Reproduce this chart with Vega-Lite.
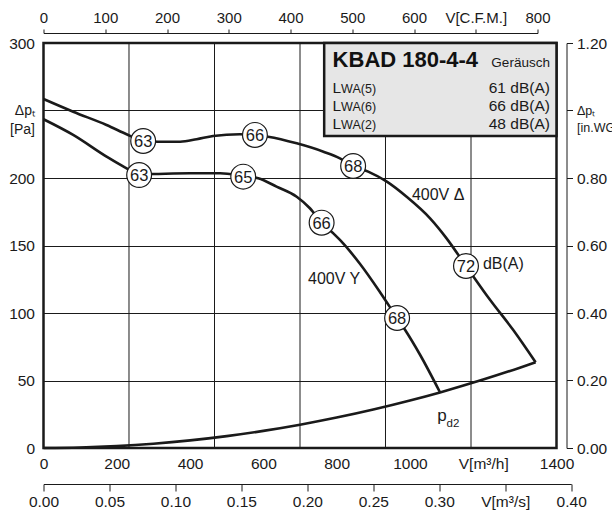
{
  "$schema": "https://vega.github.io/schema/vega-lite/v6.json",
  "width": 513,
  "height": 405,
  "autosize": {"type": "none"},
  "padding": {"left": 43.5, "top": 43, "right": 55.5, "bottom": 67},
  "config": {
    "view": {"stroke": "#1a1a1a", "strokeWidth": 2.5},
    "font": "Liberation Sans",
    "axis": {"labelFont": "Liberation Sans", "labelColor": "#1a1a1a", "labelFontSize": 15.5, "domainColor": "#1a1a1a", "tickColor": "#1a1a1a", "domainWidth": 1, "tickWidth": 1, "labelOverlap": false, "labelFlush": false, "labelBound": false}
  },
  "datasets": {
    "curves": [
      {"curve": "D", "v": 0, "p": 258.5}, {"curve": "D", "v": 81, "p": 249.1}, {"curve": "D", "v": 172, "p": 239.3}, {"curve": "D", "v": 231, "p": 231.9}, {"curve": "D", "v": 272, "p": 227.4}, {"curve": "D", "v": 313, "p": 226.9}, {"curve": "D", "v": 373, "p": 226.9}, {"curve": "D", "v": 418, "p": 228.7}, {"curve": "D", "v": 463, "p": 231.1}, {"curve": "D", "v": 536, "p": 232.4}, {"curve": "D", "v": 577, "p": 231.9}, {"curve": "D", "v": 613, "p": 230.6}, {"curve": "D", "v": 691, "p": 225.7}, {"curve": "D", "v": 764, "p": 219.5}, {"curve": "D", "v": 809, "p": 214.6}, {"curve": "D", "v": 845, "p": 208.9}, {"curve": "D", "v": 886, "p": 204.7}, {"curve": "D", "v": 937, "p": 197.3}, {"curve": "D", "v": 991, "p": 186.1}, {"curve": "D", "v": 1055, "p": 170.1}, {"curve": "D", "v": 1100, "p": 155.3}, {"curve": "D", "v": 1153, "p": 134.8}, {"curve": "D", "v": 1219, "p": 109.6}, {"curve": "D", "v": 1282, "p": 87.4}, {"curve": "D", "v": 1343, "p": 63.5},
      {"curve": "Y", "v": 0, "p": 243.5}, {"curve": "Y", "v": 81, "p": 231.9}, {"curve": "Y", "v": 172, "p": 215.8}, {"curve": "Y", "v": 222, "p": 207.9}, {"curve": "Y", "v": 261, "p": 202.8}, {"curve": "Y", "v": 300, "p": 203}, {"curve": "Y", "v": 400, "p": 203.5}, {"curve": "Y", "v": 482, "p": 203.5}, {"curve": "Y", "v": 545, "p": 201.5}, {"curve": "Y", "v": 586, "p": 199.8}, {"curve": "Y", "v": 636, "p": 193.6}, {"curve": "Y", "v": 691, "p": 186.1}, {"curve": "Y", "v": 727, "p": 177.6}, {"curve": "Y", "v": 759, "p": 166.9}, {"curve": "Y", "v": 791, "p": 159}, {"curve": "Y", "v": 809, "p": 154.1}, {"curve": "Y", "v": 864, "p": 136.3}, {"curve": "Y", "v": 918, "p": 115.6}, {"curve": "Y", "v": 965, "p": 96.3}, {"curve": "Y", "v": 987, "p": 87.4}, {"curve": "Y", "v": 1028, "p": 68.9}, {"curve": "Y", "v": 1082, "p": 41.3},
      {"curve": "pd2", "v": 0, "p": 0}, {"curve": "pd2", "v": 100, "p": 0.35}, {"curve": "pd2", "v": 200, "p": 1.41}, {"curve": "pd2", "v": 300, "p": 3.17}, {"curve": "pd2", "v": 400, "p": 5.63}, {"curve": "pd2", "v": 500, "p": 8.8}, {"curve": "pd2", "v": 600, "p": 12.67}, {"curve": "pd2", "v": 700, "p": 17.25}, {"curve": "pd2", "v": 800, "p": 22.53}, {"curve": "pd2", "v": 900, "p": 28.51}, {"curve": "pd2", "v": 1000, "p": 35.2}, {"curve": "pd2", "v": 1082, "p": 41.2}, {"curve": "pd2", "v": 1200, "p": 50.69}, {"curve": "pd2", "v": 1300, "p": 59.49}, {"curve": "pd2", "v": 1343, "p": 63.5}
    ],
    "circles": [
      {"lab": "63", "v": 272, "p": 227.4}, {"lab": "66", "v": 577, "p": 231.9}, {"lab": "68", "v": 845, "p": 208.9}, {"lab": "72", "v": 1153, "p": 134.8},
      {"lab": "63", "v": 261, "p": 202.2}, {"lab": "65", "v": 545, "p": 201}, {"lab": "66", "v": 759, "p": 166.9}, {"lab": "68", "v": 965, "p": 96.3}
    ],
    "vgrid": [{"v": 233.3}, {"v": 466.7}, {"v": 700}, {"v": 933.3}, {"v": 1166.7}],
    "box": [{"v": 766, "v2": 1400, "p": 300, "p2": 231.1}],
    "notes": [{"t": "400V Δ", "v": 1077, "p": 187.4}, {"t": "400V Y", "v": 793, "p": 125.2}, {"t": "dB(A)", "v": 1255, "p": 136.3}],
    "pd2p": [{"t": "p", "v": 1087.5, "p": 20}],
    "pd2s": [{"t": "d2", "v": 1100, "p": 15.8}],
    "btitle": [{"t": "KBAD 180-4-4", "v": 789, "p": 282}],
    "bsub": [{"t": "Geräusch", "v": 1382, "p": 282}],
    "brows": [
      {"L": "L", "sub": "WA(5)", "val": "61 dB(A)", "vL": 789, "vR": 1382, "p": 263.2},
      {"L": "L", "sub": "WA(6)", "val": "66 dB(A)", "vL": 789, "vR": 1382, "p": 249.9},
      {"L": "L", "sub": "WA(2)", "val": "48 dB(A)", "vL": 789, "vR": 1382, "p": 236.1}
    ],
    "cfm": [{"cfm": 0}, {"cfm": 800}],
    "ms": [{"ms": 0}, {"ms": 0.4}],
    "inwg": [{"inwg": 0}, {"inwg": 1.2}]
  },
  "layer": [
    {
      "data": {"name": "vgrid"},
      "mark": {"type": "rule", "color": "#1a1a1a", "strokeWidth": 1},
      "encoding": {"x": {"field": "v", "type": "quantitative", "scale": {"domain": [0, 1400], "nice": false, "zero": false}, "axis": null}}
    },
    {
      "data": {"name": "curves"},
      "mark": {"type": "line", "color": "#1a1a1a", "strokeWidth": 2.6, "interpolate": "monotone"},
      "encoding": {
        "x": {"field": "v", "type": "quantitative", "scale": {"domain": [0, 1400], "nice": false, "zero": false},
          "axis": {"orient": "bottom", "title": null, "values": [0, 200, 400, 600, 800, 1000, 1200, 1400], "format": "d", "labelExpr": "datum.value == 1200 ? 'V[m³/h]' : datum.label", "domain": false, "ticks": false, "grid": false, "labelPadding": 8}},
        "y": {"field": "p", "type": "quantitative", "scale": {"domain": [0, 300], "nice": false, "zero": false},
          "axis": {"orient": "left", "title": null, "values": [0, 50, 100, 150, 200, 250, 300], "format": "d", "labelExpr": "datum.value == 250 ? ['Δpₜ', '[Pa]'] : datum.label", "labelFontSize": {"condition": {"test": "datum.value == 250", "value": 14}, "value": 15.5}, "domain": false, "ticks": false, "grid": true, "gridColor": "#1a1a1a", "gridWidth": 1, "gridOpacity": 1, "labelPadding": 9, "labelLineHeight": 19}},
        "detail": {"field": "curve", "type": "nominal"}
      }
    },
    {
      "data": {"name": "box"},
      "mark": {"type": "rect", "fill": "#e6e6e6", "stroke": "#1a1a1a", "strokeWidth": 2.5},
      "encoding": {
        "x": {"field": "v", "type": "quantitative", "scale": {"domain": [0, 1400], "nice": false, "zero": false}, "axis": null}, "x2": {"field": "v2"},
        "y": {"field": "p", "type": "quantitative", "scale": {"domain": [0, 300], "nice": false, "zero": false}, "axis": null}, "y2": {"field": "p2"}
      }
    },
    {
      "data": {"name": "circles"},
      "mark": {"type": "point", "shape": "circle", "size": 616, "filled": true, "fill": "white", "stroke": "#1a1a1a", "strokeWidth": 1.2, "opacity": 1},
      "encoding": {
        "x": {"field": "v", "type": "quantitative", "scale": {"domain": [0, 1400], "nice": false, "zero": false}, "axis": null},
        "y": {"field": "p", "type": "quantitative", "scale": {"domain": [0, 300], "nice": false, "zero": false}, "axis": null}
      }
    },
    {
      "data": {"name": "circles"},
      "mark": {"type": "text", "fontSize": 16.5, "align": "center", "baseline": "middle", "color": "#1a1a1a", "dy": 1},
      "encoding": {
        "x": {"field": "v", "type": "quantitative", "scale": {"domain": [0, 1400], "nice": false, "zero": false}, "axis": null},
        "y": {"field": "p", "type": "quantitative", "scale": {"domain": [0, 300], "nice": false, "zero": false}, "axis": null},
        "text": {"field": "lab"}
      }
    },
    {
      "data": {"name": "notes"},
      "mark": {"type": "text", "fontSize": 16, "align": "center", "baseline": "middle", "color": "#1a1a1a"},
      "encoding": {
        "x": {"field": "v", "type": "quantitative", "scale": {"domain": [0, 1400], "nice": false, "zero": false}, "axis": null},
        "y": {"field": "p", "type": "quantitative", "scale": {"domain": [0, 300], "nice": false, "zero": false}, "axis": null},
        "text": {"field": "t"}
      }
    },
    {
      "data": {"name": "pd2p"},
      "mark": {"type": "text", "fontSize": 17, "align": "center", "baseline": "alphabetic", "color": "#1a1a1a"},
      "encoding": {
        "x": {"field": "v", "type": "quantitative", "scale": {"domain": [0, 1400], "nice": false, "zero": false}, "axis": null},
        "y": {"field": "p", "type": "quantitative", "scale": {"domain": [0, 300], "nice": false, "zero": false}, "axis": null},
        "text": {"field": "t"}
      }
    },
    {
      "data": {"name": "pd2s"},
      "mark": {"type": "text", "fontSize": 11.5, "align": "left", "baseline": "alphabetic", "color": "#1a1a1a"},
      "encoding": {
        "x": {"field": "v", "type": "quantitative", "scale": {"domain": [0, 1400], "nice": false, "zero": false}, "axis": null},
        "y": {"field": "p", "type": "quantitative", "scale": {"domain": [0, 300], "nice": false, "zero": false}, "axis": null},
        "text": {"field": "t"}
      }
    },
    {
      "data": {"name": "btitle"},
      "mark": {"type": "text", "fontSize": 22, "fontWeight": "bold", "align": "left", "baseline": "alphabetic", "color": "#111111"},
      "encoding": {
        "x": {"field": "v", "type": "quantitative", "scale": {"domain": [0, 1400], "nice": false, "zero": false}, "axis": null},
        "y": {"field": "p", "type": "quantitative", "scale": {"domain": [0, 300], "nice": false, "zero": false}, "axis": null},
        "text": {"field": "t"}
      }
    },
    {
      "data": {"name": "bsub"},
      "mark": {"type": "text", "fontSize": 13.5, "align": "right", "baseline": "alphabetic", "color": "#1a1a1a"},
      "encoding": {
        "x": {"field": "v", "type": "quantitative", "scale": {"domain": [0, 1400], "nice": false, "zero": false}, "axis": null},
        "y": {"field": "p", "type": "quantitative", "scale": {"domain": [0, 300], "nice": false, "zero": false}, "axis": null},
        "text": {"field": "t"}
      }
    },
    {
      "data": {"name": "brows"},
      "mark": {"type": "text", "fontSize": 15.5, "align": "left", "baseline": "alphabetic", "color": "#1a1a1a"},
      "encoding": {
        "x": {"field": "vL", "type": "quantitative", "scale": {"domain": [0, 1400], "nice": false, "zero": false}, "axis": null},
        "y": {"field": "p", "type": "quantitative", "scale": {"domain": [0, 300], "nice": false, "zero": false}, "axis": null},
        "text": {"field": "L"}
      }
    },
    {
      "data": {"name": "brows"},
      "mark": {"type": "text", "fontSize": 12.5, "align": "left", "baseline": "alphabetic", "color": "#1a1a1a", "dx": 8.5},
      "encoding": {
        "x": {"field": "vL", "type": "quantitative", "scale": {"domain": [0, 1400], "nice": false, "zero": false}, "axis": null},
        "y": {"field": "p", "type": "quantitative", "scale": {"domain": [0, 300], "nice": false, "zero": false}, "axis": null},
        "text": {"field": "sub"}
      }
    },
    {
      "data": {"name": "brows"},
      "mark": {"type": "text", "fontSize": 15.5, "align": "right", "baseline": "alphabetic", "color": "#1a1a1a"},
      "encoding": {
        "x": {"field": "vR", "type": "quantitative", "scale": {"domain": [0, 1400], "nice": false, "zero": false}, "axis": null},
        "y": {"field": "p", "type": "quantitative", "scale": {"domain": [0, 300], "nice": false, "zero": false}, "axis": null},
        "text": {"field": "val"}
      }
    },
    {
      "data": {"name": "cfm"},
      "mark": {"type": "point", "opacity": 0},
      "encoding": {
        "x": {"field": "cfm", "type": "quantitative", "scale": {"domain": [0, 800], "range": [0, 494], "nice": false, "zero": false},
          "axis": {"orient": "top", "offset": 10, "title": null, "values": [0, 100, 200, 300, 400, 500, 600, 700, 800], "format": "d", "labelExpr": "datum.value == 700 ? 'V[C.F.M.]' : datum.label", "tickSize": 4, "labelPadding": 4, "grid": false, "labelFontSize": 15}}
      }
    },
    {
      "data": {"name": "ms"},
      "mark": {"type": "point", "opacity": 0},
      "encoding": {
        "x": {"field": "ms", "type": "quantitative", "scale": {"domain": [0, 0.4], "range": [0, 527.7], "nice": false, "zero": false},
          "axis": {"orient": "bottom", "offset": 36, "title": null, "values": [0, 0.05, 0.1, 0.15, 0.2, 0.25, 0.3, 0.35, 0.4], "format": ".2f", "labelExpr": "abs(datum.value - 0.35) < 0.001 ? 'V[m³/s]' : datum.label", "tickSize": 7, "labelPadding": 3, "grid": false}}
      }
    },
    {
      "data": {"name": "inwg"},
      "mark": {"type": "point", "opacity": 0},
      "encoding": {
        "y": {"field": "inwg", "type": "quantitative", "scale": {"domain": [0, 1.2], "nice": false, "zero": false},
          "axis": {"orient": "right", "offset": 10, "title": null, "values": [0, 0.2, 0.4, 0.6, 0.8, 1, 1.2], "format": ".2f", "labelExpr": "datum.value == 1 ? ['Δpₜ', '[in.WG]'] : datum.label", "labelFontSize": {"condition": {"test": "datum.value == 1", "value": 12.5}, "value": 15.5}, "tickSize": 6, "labelPadding": 4, "grid": false, "labelLineHeight": 17}}
      }
    }
  ],
  "resolve": {"scale": {"x": "independent", "y": "independent"}, "axis": {"x": "independent", "y": "independent"}}
}
